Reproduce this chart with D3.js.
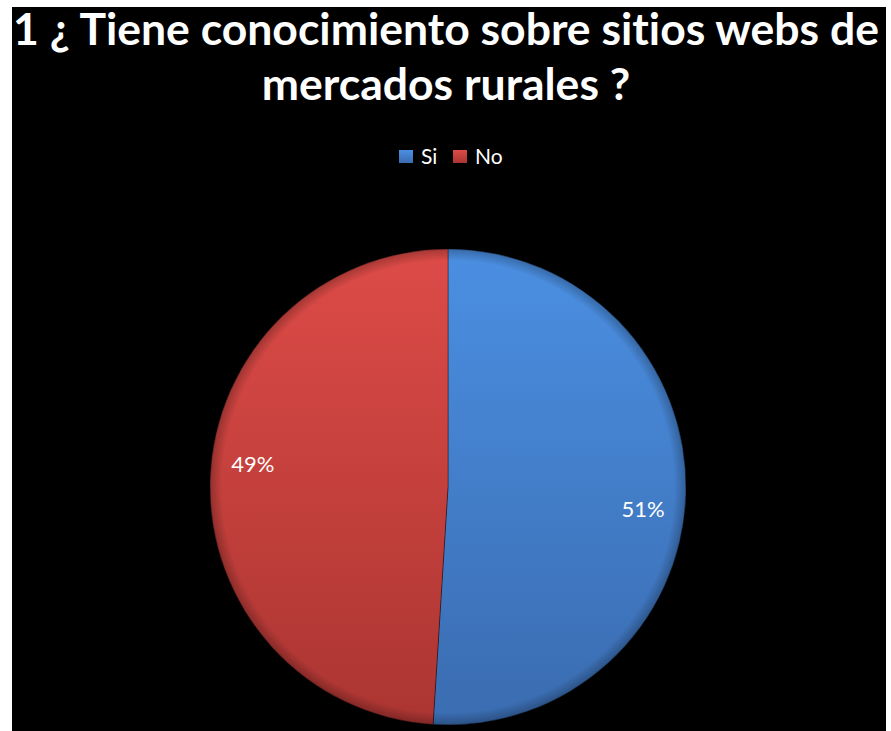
<!DOCTYPE html>
<html><head><meta charset="utf-8">
<script src="https://cdn.jsdelivr.net/npm/d3@7"></script>
<style>html,body{margin:0;padding:0;background:#fff;}svg{display:block;}text{font-variant-ligatures:none;}</style>
</head><body>
<svg id="chart" width="891" height="731"></svg>
<script>
const titleLines = ["1 ¿ Tiene conocimiento sobre sitios webs de", "mercados rurales ?"];
const categories = ["Si", "No"];
const values = [51, 49];
const labels = ["51%", "49%"];

const svg = d3.select("#chart");
const W = 891, H = 731;
const colors = {Si: ["#4b8fe2", "#3a6cb0"], No: ["#dd4b47", "#ab3532"]};
const defs = svg.append("defs");
categories.forEach(c => {
  const g = defs.append("linearGradient").attr("id", "g" + c).attr("x1", 0).attr("y1", 0).attr("x2", 0).attr("y2", 1);
  g.append("stop").attr("offset", "0%").attr("stop-color", colors[c][0]);
  g.append("stop").attr("offset", "100%").attr("stop-color", colors[c][1]);
});
const rg = defs.append("radialGradient").attr("id", "bevel").attr("cx", "50%").attr("cy", "50%").attr("r", "50%");
rg.append("stop").attr("offset", "0.95").attr("stop-color", "#000").attr("stop-opacity", 0);
rg.append("stop").attr("offset", "1").attr("stop-color", "#000").attr("stop-opacity", 0.25);

svg.append("rect").attr("x", 12).attr("y", 7).attr("width", 874).attr("height", H - 7).attr("fill", "#000");

svg.append("g").selectAll("text").data(titleLines).join("text")
  .attr("x", 446).attr("y", (d, i) => 45 + i * 55)
  .attr("text-anchor", "middle").attr("fill", "#fff")
  .attr("font-family", "Lato, 'Open Sans', sans-serif").attr("font-weight", "bold")
  .attr("font-size", 44.5).text(d => d);

// legend
const leg = svg.append("g").attr("font-family", "Lato, 'Open Sans', sans-serif").attr("font-size", 21).attr("fill", "#fff");
const legX = d3.scalePoint().domain(categories).range([399, 453]);
categories.forEach(c => {
  leg.append("rect").attr("x", legX(c)).attr("y", 150).attr("width", 14).attr("height", 13).attr("fill", "url(#g" + c + ")");
  leg.append("text").attr("x", legX(c) + 22).attr("y", 164).text(c);
});

const cx = 448, cy = 487, R = 238;
const pie = d3.pie().sort(null).value(d => d.v);
const arcs = pie(categories.map((c, i) => ({c, v: values[i], l: labels[i]})));
const arc = d3.arc().innerRadius(0).outerRadius(R);
const g = svg.append("g").attr("transform", `translate(${cx},${cy})`);
g.selectAll("path.s").data(arcs).join("path").attr("class", "s")
  .attr("d", arc).attr("fill", d => `url(#g${d.data.c})`)
  .attr("stroke", "rgba(0,0,0,0.35)").attr("stroke-width", 1);
g.append("circle").attr("r", R).attr("fill", "url(#bevel)");
const shift = 4.7 * Math.PI / 180;
const lab = d3.arc().innerRadius(R * 0.825).outerRadius(R * 0.825);
g.selectAll("text").data(arcs).join("text")
  .attr("transform", d => `translate(${lab.centroid({startAngle: d.startAngle + shift, endAngle: d.endAngle + shift})})`)
  .attr("text-anchor", "middle").attr("dy", "0.35em")
  .attr("fill", "#fff").attr("font-family", "Lato, 'Open Sans', sans-serif").attr("font-size", 22)
  .text(d => d.data.l);
</script>
</body></html>
